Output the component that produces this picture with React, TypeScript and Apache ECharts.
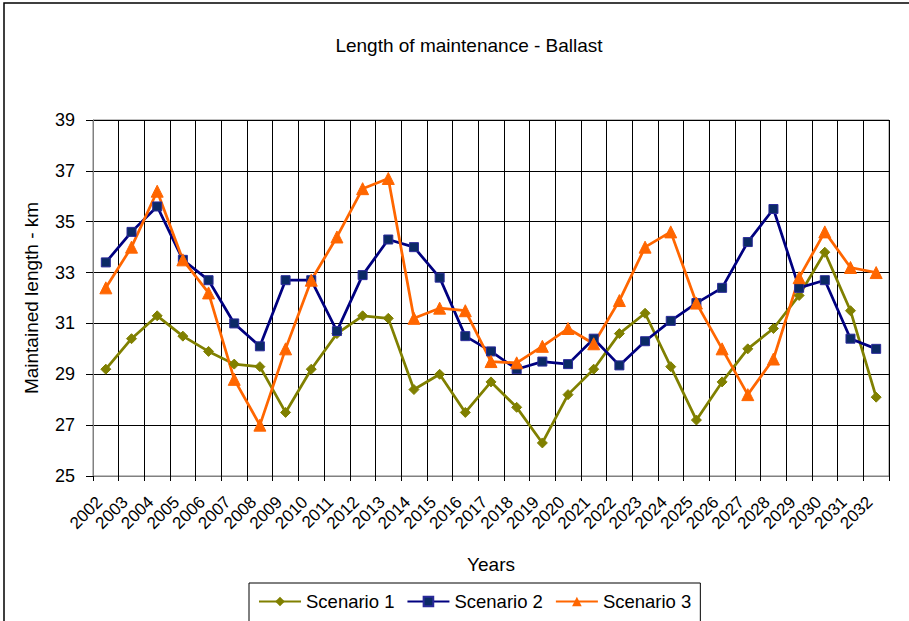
import React, { useEffect, useRef } from "react";
import * as echarts from "echarts";

const years = [
  "2002", "2003", "2004", "2005", "2006", "2007", "2008", "2009", "2010", "2011",
  "2012", "2013", "2014", "2015", "2016", "2017", "2018", "2019", "2020", "2021",
  "2022", "2023", "2024", "2025", "2026", "2027", "2028", "2029", "2030", "2031", "2032",
];

const scenario1 = [
  29.2, 30.4, 31.3, 30.5, 29.9, 29.4, 29.3, 27.5, 29.2, 30.6,
  31.3, 31.2, 28.4, 29.0, 27.5, 28.7, 27.7, 26.3, 28.2, 29.2,
  30.6, 31.4, 29.3, 27.2, 28.7, 30.0, 30.8, 32.1, 33.8, 31.5, 28.1,
];

const scenario2 = [
  33.4, 34.6, 35.6, 33.5, 32.7, 31.0, 30.1, 32.7, 32.7, 30.7,
  32.9, 34.3, 34.0, 32.8, 30.5, 29.9, 29.2, 29.5, 29.4, 30.4,
  29.35, 30.3, 31.1, 31.8, 32.4, 34.2, 35.5, 32.4, 32.7, 30.4, 30.0,
];

const scenario3 = [
  32.4, 34.0, 36.2, 33.5, 32.2, 28.8, 27.0, 30.0, 32.7, 34.4,
  36.3, 36.7, 31.2, 31.6, 31.5, 29.5, 29.45, 30.1, 30.8, 30.2,
  31.9, 34.0, 34.6, 31.8, 30.0, 28.2, 29.6, 32.8, 34.6, 33.2, 33.0,
];

const yMin = 25;
const yMax = 39;
const yStep = 2;

const FONT = "'Liberation Sans', Arial, sans-serif";

export default function App() {
  const ref = useRef<HTMLDivElement>(null);

  useEffect(() => {
    if (!ref.current) return;
    const chart = echarts.init(ref.current, undefined, { renderer: "svg" });
    chart.setOption({
      animation: false,
      backgroundColor: "#ffffff",
      textStyle: { fontFamily: FONT, color: "#000" },
      title: {
        text: "Length of maintenance - Ballast",
        left: 464,
        top: 31,
        textAlign: "center",
        textStyle: { fontFamily: FONT, fontSize: 19, fontWeight: "normal", color: "#000" },
      },
      graphic: [
        {
          type: "rect",
          shape: { x: 4, y: 3, width: 940, height: 700 },
          style: { fill: "none", stroke: "#000", lineWidth: 1.5 },
          silent: true,
        },
      ],
      legend: {
        top: 583,
        left: 249,
        orient: "horizontal",
        padding: [9, 9, 40, 9],
        borderColor: "#000",
        borderWidth: 1,
        itemWidth: 42,
        itemHeight: 12,
        itemGap: 12,
        textStyle: { fontFamily: FONT, fontSize: 18.5, color: "#000" },
        data: ["Scenario 1", "Scenario 2", "Scenario 3"],
      },
      grid: {
        left: 93,
        right: 20,
        top: 120,
        bottom: 145,
        show: true,
        borderColor: "#808080",
        borderWidth: 1,
        containLabel: false,
      },
      xAxis: {
        type: "category",
        data: years,
        boundaryGap: true,
        name: "Years",
        nameLocation: "middle",
        nameGap: 79,
        nameTextStyle: { fontFamily: FONT, fontSize: 19, color: "#000" },
        axisLine: { show: true, lineStyle: { color: "#808080", width: 1 } },
        axisTick: { show: true, interval: 0, length: 5, lineStyle: { color: "#000" } },
        axisLabel: {
          interval: 0,
          rotate: 45,
          margin: 17,
          padding: [0, 9, 0, 0],
          fontFamily: FONT,
          fontSize: 17,
          color: "#000",
        },
        splitLine: { show: true, interval: 0, lineStyle: { color: "#000", width: 1 } },
      },
      yAxis: {
        type: "value",
        min: yMin,
        max: yMax,
        interval: yStep,
        name: "Maintained length - km",
        nameLocation: "middle",
        nameGap: 52,
        nameTextStyle: { fontFamily: FONT, fontSize: 19, color: "#000" },
        axisLine: { show: true, lineStyle: { color: "#808080", width: 1 } },
        axisTick: { show: true, length: 7, lineStyle: { color: "#000" } },
        axisLabel: { fontFamily: FONT, fontSize: 18, color: "#000", margin: 18 },
        splitLine: { show: true, lineStyle: { color: "#000", width: 1 } },
      },
      series: [
        {
          name: "Scenario 1",
          type: "line",
          data: scenario1,
          symbol: "diamond",
          symbolSize: 10,
          lineStyle: { color: "#808000", width: 2.75 },
          itemStyle: { color: "#808000", borderColor: "#808000" },
        },
        {
          name: "Scenario 2",
          type: "line",
          data: scenario2,
          symbol: "rect",
          symbolSize: 9,
          lineStyle: { color: "#000080", width: 2.75 },
          itemStyle: { color: "#0b2a66", borderColor: "#2a2a9a", borderWidth: 1 },
        },
        {
          name: "Scenario 3",
          type: "line",
          data: scenario3,
          symbol: "triangle",
          symbolSize: 12,
          lineStyle: { color: "#ff6600", width: 2.75 },
          itemStyle: { color: "#ff6600", borderColor: "#ff6600" },
        },
      ],
    });
    return () => chart.dispose();
  }, []);

  return (
    <div
      ref={ref}
      style={{ position: "fixed", left: 0, top: 0, width: 909, height: 621 }}
    />
  );
}
